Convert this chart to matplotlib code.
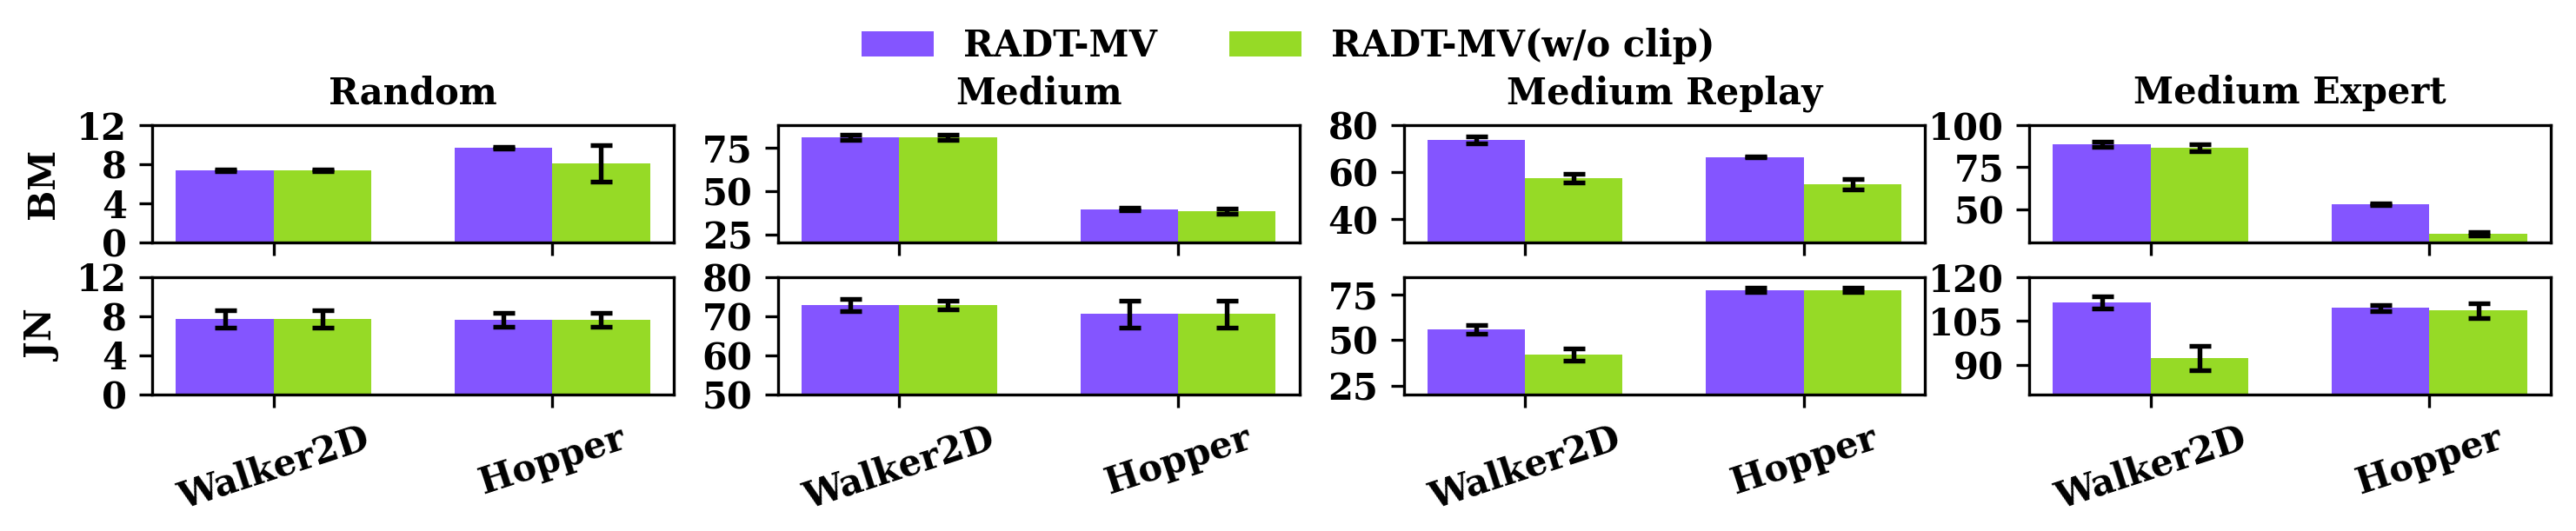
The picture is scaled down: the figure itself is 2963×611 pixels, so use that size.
import matplotlib
matplotlib.use('Agg')
import matplotlib.pyplot as plt
import numpy as np

plt.rcParams['font.family'] = 'DejaVu Serif'
plt.rcParams['font.weight'] = 'bold'
plt.rcParams['font.size'] = 10

# data
datasets = ['Random', 'Medium', 'Medium Replay', 'Medium Expert']
envs = ['Walker2D', 'Hopper']
rows = ['BM', 'JN']
labels = ['RADT-MV', 'RADT-MV(w/o clip)']

bm_mv = [[7.4, 9.7], [80.9, 39.5], [73.8, 66.5], [88.6, 53.0]]
bm_mv_err = [[0.1, 0.1], [1.5, 0.6], [1.5, 0.3], [1.7, 0.5]]
bm_noclip = [[7.4, 8.1], [80.9, 38.5], [57.6, 55.0], [86.6, 35.4]]
bm_noclip_err = [[0.1, 1.9], [1.5, 1.5], [1.9, 2.2], [1.9, 1.0]]

jn_mv = [[7.7, 7.6], [72.8, 70.5], [55.9, 77.8], [111.2, 109.4]]
jn_mv_err = [[0.9, 0.7], [1.6, 3.4], [2.4, 1.2], [2.1, 1.0]]
jn_noclip = [[7.7, 7.6], [72.8, 70.5], [41.9, 77.8], [92.4, 108.5]]
jn_noclip_err = [[0.9, 0.7], [1.1, 3.4], [3.4, 1.2], [4.2, 2.6]]

bm_ylim = [(0, 12), (20, 88), (30, 80), (30, 100)]
jn_ylim = [(0, 12), (50, 80), (20, 85), (80, 120)]
bm_yticks = [[0, 4, 8, 12], [25, 50, 75], [40, 60, 80], [50, 75, 100]]
jn_yticks = [[0, 4, 8, 12], [50, 60, 70, 80], [25, 50, 75], [90, 105, 120]]

colors = ['#8455ff', '#96da26']
width = 0.35

fig, axes = plt.subplots(2, 4, figsize=(2963 / 300, 611 / 300), dpi=300)
fig.subplots_adjust(left=0.0591, right=0.9902, top=0.7643, bottom=0.257,
                    wspace=0.2, hspace=0.288)

x = np.arange(len(envs))
err_kw = dict(elinewidth=1.3, capthick=1.3, ecolor='black')
row_data = [(bm_mv, bm_mv_err, bm_noclip, bm_noclip_err, bm_ylim, bm_yticks),
            (jn_mv, jn_mv_err, jn_noclip, jn_noclip_err, jn_ylim, jn_yticks)]

for r, (mv, mv_err, nc, nc_err, ylims, yticks) in enumerate(row_data):
    for c in range(len(datasets)):
        ax = axes[r, c]
        ax.bar(x - width / 2, mv[c], width, yerr=mv_err[c], capsize=3,
               color=colors[0], label=labels[0], error_kw=err_kw)
        ax.bar(x + width / 2, nc[c], width, yerr=nc_err[c], capsize=3,
               color=colors[1], label=labels[1], error_kw=err_kw)
        ax.set_ylim(*ylims[c])
        ax.set_yticks(yticks[c])
        ax.set_xticks(x)
        if r == 0:
            ax.set_xticklabels([])
            ax.set_title(datasets[c], fontweight='bold', fontsize=10)
        else:
            ax.set_xticklabels(envs, rotation=18)
        if c == 0:
            ax.set_ylabel(rows[r], fontweight='bold')

handles, labs = axes[0, 0].get_legend_handles_labels()
fig.legend(handles, labs, loc='center', bbox_to_anchor=(0.5, 0.913),
           ncol=2, frameon=False)

fig.savefig('out.png', dpi=300)
